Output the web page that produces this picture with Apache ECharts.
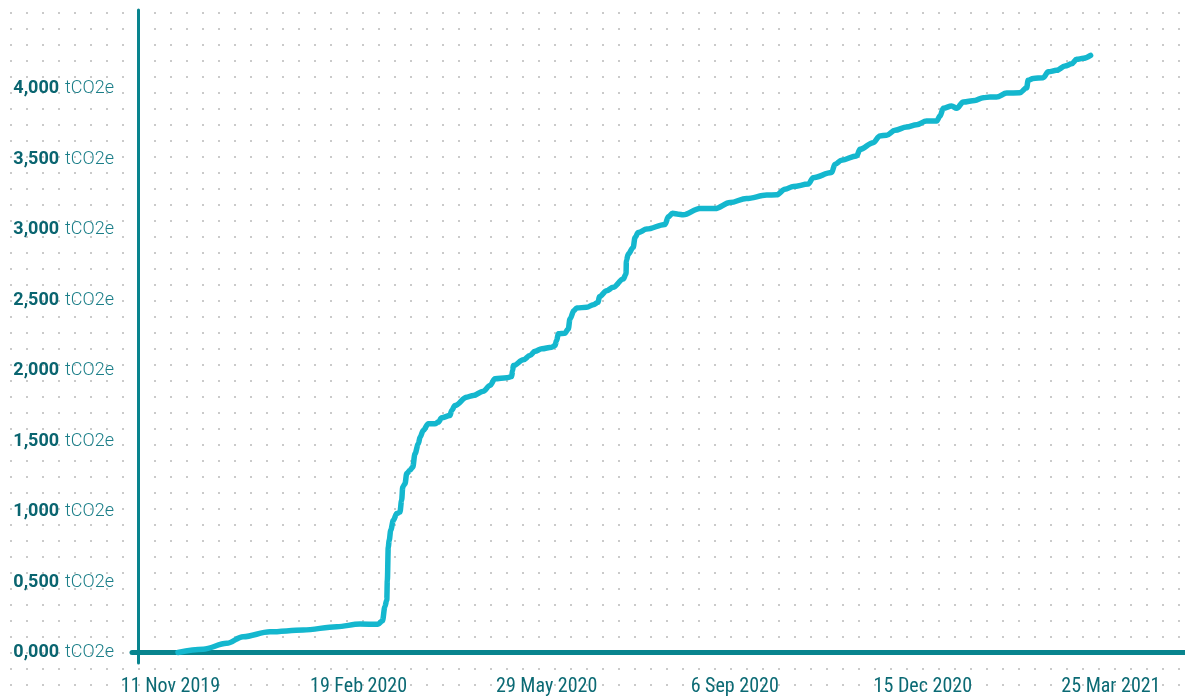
<!DOCTYPE html>
<html>
<head>
<meta charset="utf-8">
<script src="https://cdn.jsdelivr.net/npm/echarts@6/dist/echarts.min.js"></script>
<style>
  html, body { margin: 0; padding: 0; background: #ffffff; }
  #chart {
    width: 1185px; height: 697px;
    background-image: url("data:image/svg+xml;utf8,<svg xmlns='http://www.w3.org/2000/svg' width='16' height='16'><rect width='2' height='2' fill='%23cacaca'/></svg>");
    background-position: 10px 12px;
  }
</style>
</head>
<body>
<div id="chart"></div>
<script>
// ---- data ----
const startDate = '2019-10-25'; // date at the vertical axis
const dayOffsets = [
  21.0, 34.3, 46.9, 55.6, 69.9, 87.5, 105.4, 117.8, 127.3, 129.7,
  131.0, 132.0, 132.3, 132.8, 133.3, 134.1, 135.5, 137.3, 139.0, 139.9,
  140.5, 141.7, 142.6, 144.3, 145.8, 147.0, 148.8, 149.7, 151.4, 154.1,
  157.6, 159.4, 161.2, 165.6, 166.5, 168.3, 174.5, 178.0, 183.3, 186.9,
  189.5, 195.7, 198.4, 198.9, 199.3, 204.6, 208.1, 210.8, 214.4, 219.7,
  221.4, 222.3, 223.2, 226.7, 228.5, 229.4, 231.5, 233.0, 238.3, 241.8,
  244.4, 245.0, 248.9, 252.4, 257.7, 259.2, 259.4, 260.4, 263.0, 264.0,
  265.7, 270.2, 279.9, 281.7, 283.9, 287.0, 289.6, 298.5, 306.5, 314.5,
  323.3, 334.0, 339.3, 343.7, 348.1, 356.1, 358.7, 368.5, 370.3, 373.8,
  381.8, 383.6, 390.6, 394.2, 397.8, 402.2, 408.4, 413.7, 419.0, 424.4,
  426.1, 427.9, 432.3, 435.0, 438.5, 444.7, 449.1, 452.7, 456.2, 461.6,
  468.6, 472.2, 473.0, 475.7, 481.0, 483.7, 488.1, 492.6, 496.1, 498.8,
  502.3, 506.2
];
const emissions = [
  0, 23, 65, 112, 147, 159, 183, 202, 200, 225,
  325, 372, 513, 749, 796, 867, 938, 985, 997, 1080,
  1174, 1198, 1269, 1292, 1315, 1410, 1481, 1528, 1575, 1623,
  1623, 1634, 1665, 1681, 1717, 1752, 1811, 1823, 1853, 1894,
  1941, 1948, 1957, 2000, 2035, 2076, 2106, 2137, 2154, 2165,
  2177, 2212, 2260, 2264, 2295, 2366, 2425, 2444, 2448, 2467,
  2484, 2524, 2566, 2590, 2649, 2685, 2779, 2826, 2873, 2944,
  2979, 3003, 3036, 3090, 3115, 3109, 3104, 3149, 3149, 3191,
  3220, 3244, 3246, 3286, 3305, 3322, 3368, 3404, 3463, 3491,
  3522, 3569, 3616, 3664, 3669, 3704, 3727, 3743, 3769, 3769,
  3805, 3860, 3876, 3860, 3904, 3916, 3935, 3940, 3940, 3968,
  3970, 4005, 4058, 4072, 4077, 4119, 4129, 4159, 4175, 4207,
  4214, 4235
];
const xTickDates = ['2019-11-11', '2020-02-19', '2020-05-29', '2020-09-06', '2020-12-15', '2021-03-25'];
const xTickLabels = ['11 Nov 2019', '19 Feb 2020', '29 May 2020', '6 Sep 2020', '15 Dec 2020', '25 Mar 2021'];
const yTickValues = [0, 500, 1000, 1500, 2000, 2500, 3000, 3500, 4000];
const yTickLabels = ['0,000', '0,500', '1,000', '1,500', '2,000', '2,500', '3,000', '3,500', '4,000'];
const yUnit = 'tCO2e';

// ---- helpers ----
function utcDay(s) { const p = s.split('-').map(Number); return Date.UTC(p[0], p[1] - 1, p[2]); }
const start = utcDay(startDate);
const xTickDays = xTickDates.map(d => Math.round((utcDay(d) - start) / 86400000));
const seriesData = dayOffsets.map((d, i) => [d, emissions[i]]);

function hasFont(name) {
  const c = document.createElement('canvas').getContext('2d');
  const t = '11 Nov 2019 mmwwlli';
  let diff = false;
  ['monospace', 'serif'].forEach(f => {
    c.font = '40px ' + f; const a = c.measureText(t).width;
    c.font = '40px "' + name + '", ' + f; const b = c.measureText(t).width;
    if (Math.abs(a - b) > 0.5) diff = true;
  });
  return diff;
}
let xFont = 'Roboto', xSize = 17;
if (hasFont('Roboto Condensed')) { xFont = 'Roboto Condensed'; xSize = 20; }
else if (hasFont('Liberation Sans Narrow')) { xFont = 'Liberation Sans Narrow'; xSize = 21; }
else if (hasFont('DejaVu Sans Condensed')) { xFont = 'DejaVu Sans Condensed'; xSize = 18; }

const axisColor = '#08848e';
const chart = echarts.init(document.getElementById('chart'), null, { renderer: 'canvas' });
chart.setOption({
  animation: false,
  backgroundColor: 'transparent',
  grid: { left: 132, right: 0, top: 10, bottom: 34, containLabel: false, outerBoundsMode: 'none' },
  xAxis: {
    type: 'value',
    min: -3.46,
    max: 556.4,
    axisLine: { show: true, onZero: true, lineStyle: { color: axisColor, width: 5, cap: 'round' } },
    axisTick: { show: false },
    splitLine: { show: false },
    axisLabel: {
      customValues: xTickDays,
      margin: 14,
      color: '#0b6a74',
      fontFamily: xFont,
      fontSize: xSize,
      formatter: v => { const i = xTickDays.indexOf(Math.round(v)); return i >= 0 ? xTickLabels[i] : ''; }
    }
  },
  yAxis: {
    type: 'value',
    min: -74.5,
    max: 4557,
    axisLine: { show: true, onZero: true, lineStyle: { color: axisColor, width: 3 } },
    axisTick: { show: false },
    splitLine: { show: false },
    axisLabel: {
      customValues: yTickValues,
      margin: 18,
      formatter: v => { const i = yTickValues.indexOf(Math.round(v)); return i >= 0 ? '{b|' + yTickLabels[i] + '}{n|' + yUnit + '}' : ''; },
      rich: {
        b: { fontFamily: 'Roboto', fontWeight: 'bold', fontSize: 18, color: '#0a6570' },
        n: { fontFamily: 'Roboto', fontWeight: 300, fontSize: 18, color: '#1a7e88', padding: [0, 0, 0, 6] }
      }
    }
  },
  series: [{
    type: 'line',
    data: seriesData,
    showSymbol: false,
    smooth: 0.35,
    smoothMonotone: 'x',
    lineStyle: { color: '#14b7ce', width: 5.5, cap: 'round', join: 'round' },
    z: 1
  }]
});
</script>
</body>
</html>
